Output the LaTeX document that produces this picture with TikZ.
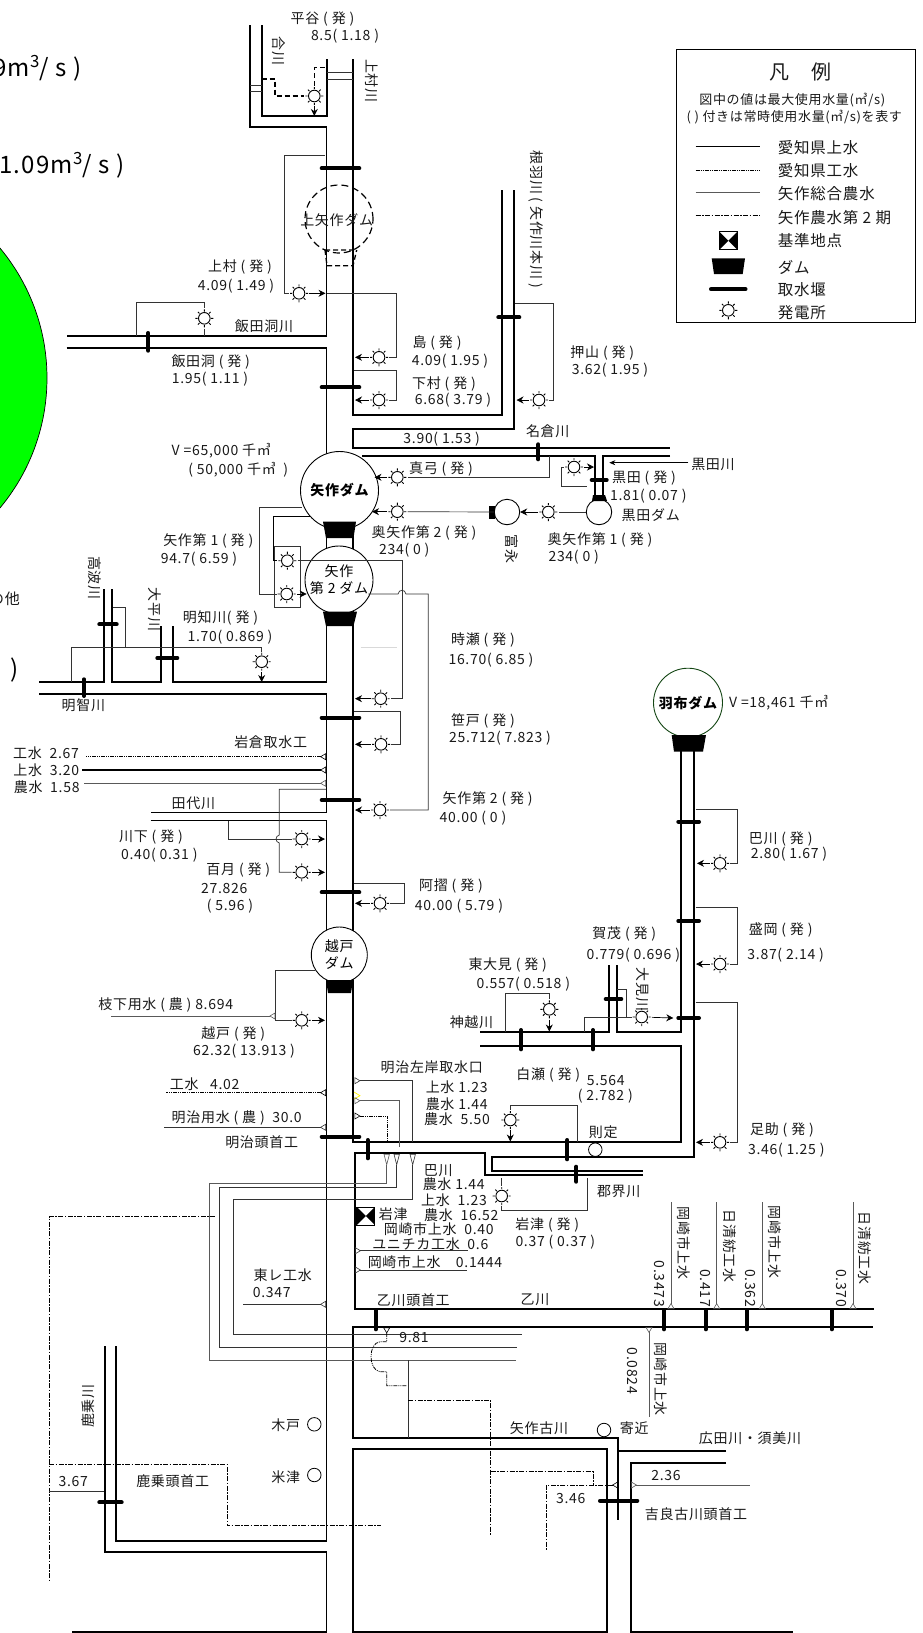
\documentclass[tikz,border=0pt]{standalone}
\usepackage{fontspec}
\setmainfont{Noto Sans CJK JP}[LetterSpace=5]
\usetikzlibrary{arrows.meta,positioning}

\begin{document}
\begin{tikzpicture}[x=1pt,y=-1pt]
\tikzset{
  river/.style={line width=1.7pt},
  weir/.style={line width=4pt,line cap=round},
  feed/.style={line width=.7pt,black!80},
  tailrace/.style={line width=.7pt,-{Stealth[length=7pt,width=7pt]}},
  planned/.style={line width=1.3pt,dash pattern=on 5pt off 3pt},
  josui/.style={line width=1.2pt},
  kosui/.style={line width=1pt,dash pattern=on 4pt off 1pt on 1pt off 1pt on 1pt off 1pt},
  nosui/.style={line width=.8pt,black!65},
  daini/.style={line width=.8pt,dash pattern=on 5pt off 1.5pt on 1.5pt off 1.5pt},
  intake/.style={arrows={Triangle[open,reversed,length=6pt,width=7pt,line width=.6pt]-}},
  intaketall/.style={arrows={Triangle[open,reversed,length=12pt,width=6pt,line width=.6pt]-}},
  damwall/.style={fill=black},
  plant/.style={circle,inner sep=0,minimum size=20pt,path picture={
    \draw[line width=.9pt,shift={(path picture bounding box.center)}] (0,0) circle (5.8);
    \draw[line width=.9pt,shift={(path picture bounding box.center)}] (0:6.8) -- (0:9) (45:6.8) -- (45:9) (90:6.8) -- (90:9) (135:6.8) -- (135:9) (180:6.8) -- (180:9) (225:6.8) -- (225:9) (270:6.8) -- (270:9) (315:6.8) -- (315:9);}},
  damnode/.style={circle,draw,fill=white,line width=.9pt,inner sep=0,align=center,font=\fontsize{14}{17}\selectfont},
  gauge/.style={circle,draw,line width=.8pt,inner sep=0,minimum size=13.5pt},
  kijun/.style={rectangle,draw,fill=white,line width=.8pt,inner sep=0,minimum size=18pt,path picture={
    \fill[black] (path picture bounding box.north west) -- (path picture bounding box.center) -- (path picture bounding box.south west) -- cycle;
    \fill[black] (path picture bounding box.north east) -- (path picture bounding box.center) -- (path picture bounding box.south east) -- cycle;}},
  lbl/.style={inner sep=0,yshift=-1pt,black!90,font=\fontsize{14}{15}\selectfont},
  lblv/.style={lbl,rotate=-90},
  lblu/.style={lbl,rotate=90},
  lbllg/.style={lbl,anchor=west,font=\fontsize{15.5}{17}\selectfont},
  bigtext/.style={inner sep=0,anchor=east,font=\fontsize{24}{28}\selectfont}
}
\useasboundingbox (0,0) rectangle (922,1633);

% off the edge
\draw[fill={rgb,255:red,0;green,255;blue,0},line width=.7pt] (-156,378) circle (203);
\node[bigtext] (t_big_a) at (82,68) {9m\textsuperscript{3}/ s )};
\node[bigtext] (t_big_b) at (125,165) {1.09m\textsuperscript{3}/ s )};
\node[bigtext] (t_big_c) at (19,670) {)};
\node[lbl,anchor=east,font=\fontsize{15}{17}\selectfont] (t_sonota) at (20,598) {の他};

% rivers
\draw[river] (250,25) |- (326.5,127) |- (66.7,336);
\draw[river] (261.7,25) |- (326.7,116) -- (326.7,59);
\draw[river] (353.3,59) |- (501.7,415.3) -- (501.7,190);
\draw[river] (514.3,190) |- (353.3,429) |- (670,448);
\draw[river] (66.7,347.7) -| (326.5,460);
\draw[river] (362,455.7) -| (595,497);
\draw[river] (670,455.7) -| (603,497);
\draw[river] (326.5,530) |- (173,682) -- (173,626);
\draw[river] (161.3,626) |- (111.7,682) -- (111.7,589);
\draw[river] (104.3,589) |- (39,682);
\draw[river] (39,694) -| (326.5,812.5) -- (150.7,812.5);
\draw[river] (150.7,820.5) -| (326.5,1540.7) -| (116,1346);
\draw[river] (104.7,1346) |- (326.5,1552.3) -- (326.5,1633);
\draw[river] (72,1632) -- (326.5,1632);
\draw[river] (353.3,530) |- (681,1142.3) -- (681,1046.3) -- (480,1046.3);
\draw[river] (480,1032) -| (609,965);
\draw[river] (616.7,965) |- (681,1032) -- (681,740);
\draw[river] (694.3,740) |- (491.7,1156.7) |- (643,1170.7);
\draw[river] (643,1175.3) -| (485.3,1152.7) -| (355,1309) -- (874,1309);
\draw[river] (872.7,1326.7) -| (353.3,1437.7) -- (618.3,1437.7) -- (618.3,1520);
\draw[river] (726,1450.7) -- (618.3,1450.7);
\draw[river] (726,1463) -| (631,1632) -- (793,1632);
\draw[river] (353.3,1633) |- (607,1448.7) -- (607,1633);
\draw[river] (353.3,1632) -- (607,1632);

% power stations
\node[plant] (p_hiraya) at (314.3,96) {};
\node[plant] (p_kamimura) at (299,293.3) {};
\node[plant] (p_iidabora) at (204.3,318.3) {};
\node[plant] (p_shima) at (379,357.3) {};
\node[plant] (p_shimomura) at (379,400) {};
\node[plant] (p_oshiyama) at (539,400) {};
\node[plant] (p_mayumi) at (397.3,477.3) {};
\node[plant] (p_okuyahagi_2) at (397.3,511.7) {};
\node[plant] (p_okuyahagi_1) at (548.3,512) {};
\node[plant] (p_kuroda) at (574,467) {};
\node[plant] (p_yahagi_1a) at (287.3,560.7) {};
\node[plant] (p_yahagi_1b) at (286.7,594) {};
\node[plant] (p_akechi) at (261.7,661.7) {};
\node[plant] (p_tokise) at (380.7,698.7) {};
\node[plant] (p_sasado) at (381,744.3) {};
\node[plant] (p_yahagi_2) at (380,810) {};
\node[plant] (p_kawashita) at (301.7,839) {};
\node[plant] (p_hyakutsuki) at (301.7,872.3) {};
\node[plant] (p_azuri) at (380,903.3) {};
\node[plant] (p_koshido) at (301.7,1020.3) {};
\node[plant] (p_higashiomi) at (549.3,1009.3) {};
\node[plant] (p_kamo) at (641.7,1017) {};
\node[plant] (p_tomoe) at (720,863.3) {};
\node[plant] (p_morioka) at (720,964) {};
\node[plant] (p_asuke) at (720,1142.3) {};
\node[plant] (p_shirase) at (510.3,1120) {};
\node[plant] (p_iwatsu) at (501.7,1196) {};

% dams and gauges
\node[damnode,minimum size=78pt,font=\fontsize{14}{17}\selectfont\bfseries] (n_yahagi) at (339.5,490.5) {矢作ダム};
\node[damnode,minimum size=68pt] (n_yahagi_2) at (339,580) {矢作\\第 2 ダム};
\node[damnode,minimum size=56pt] (n_koshido) at (339.3,955) {越戸\\ダム};
\node[damnode,minimum size=69pt,draw={rgb,255:red,20;green,70;blue,20},font=\fontsize{14}{17}\selectfont\bfseries] (n_hazu) at (688,702.7) {羽布ダム};
\node[damnode,minimum size=25.5pt] (n_kuroda) at (599,512) {};
\node[damnode,minimum size=25.5pt] (n_tominaga) at (507,512) {};
\node[circle,draw,dash pattern=on 7pt off 4pt,line width=1.2pt,minimum size=68pt,inner sep=0] (n_kamiyahagi) at (339,219) {};
\node[gauge] (g_norisada) at (595.3,1149.7) {};
\node[gauge] (g_kido) at (314.3,1424.3) {};
\node[gauge] (g_yonezu) at (314.3,1475) {};
\node[gauge] (g_yorichika) at (604,1430) {};
\node[kijun] (k_iwatsu) at (365.8,1216) {};
\draw[planned] (325,250) -- (356.7,250) (325,250) -- (327,265.7) -- (353,265.7) -- (356.7,250);
\fill[damwall] (323,521.7) -- (356,521.7) -- (353.5,538) -- (326,538) -- cycle;
\fill[damwall] (323,611.7) -- (357,611.7) -- (353.5,626) -- (326,626) -- cycle;
\fill[damwall] (326,980) -- (353,980) -- (351,993) -- (328,993) -- cycle;
\fill[damwall] (671.7,735) -- (706,735) -- (703,751.7) -- (674,751.7) -- cycle;
\fill[damwall] (593,495) -- (605,495) -- (607,501) -- (592,501) -- cycle;
\fill[damwall] (489.3,506) -- (495,506) -- (495,518.7) -- (489.3,518.7) -- cycle;

% weirs
\draw[weir] (321.7,168.3) -- (359.3,168.3);
\draw[weir] (321.7,387.3) -- (359.3,387.3);
\draw[weir] (148.3,333) -- (148.3,350.7);
\draw[weir] (498.3,317.3) -- (519.3,317.3);
\draw[weir] (538.3,444.3) -- (538.3,459.3);
\draw[weir] (591.7,480) -- (606.7,480);
\draw[weir] (99.3,624.3) -- (116.7,624.3);
\draw[weir] (157.3,658) -- (177.3,658);
\draw[weir] (84,679.3) -- (84,696);
\draw[weir] (321.7,717.7) -- (359.3,717.7);
\draw[weir] (321.7,800) -- (359.3,800);
\draw[weir] (321.7,892.3) -- (359.3,892.3);
\draw[weir] (321.7,1136.7) -- (359.3,1136.7);
\draw[weir] (367.7,1140) -- (367.7,1158.3);
\draw[weir] (678.3,821.7) -- (699,821.7);
\draw[weir] (678.3,921) -- (699,921);
\draw[weir] (678.3,1018) -- (699,1018);
\draw[weir] (521,1030) -- (521,1049.3);
\draw[weir] (593,1030) -- (593,1049.3);
\draw[weir] (605.7,999) -- (621.3,999);
\draw[weir] (567.3,1140) -- (567.3,1159.3);
\draw[weir] (576.3,1166.7) -- (576.3,1181.7);
\draw[weir] (375.7,1310) -- (375.7,1329.3);
\draw[weir] (664,1310) -- (664,1329.3);
\draw[weir] (705.7,1310) -- (705.7,1329.3);
\draw[weir] (746.7,1310) -- (746.7,1329.3);
\draw[weir] (831.7,1310) -- (831.7,1329.3);
\draw[weir] (99.3,1502.3) -- (121.7,1502.3);
\draw[weir] (600,1500.7) -- (637.3,1500.7);

% water to and from the stations
\coordinate (c_hiraya_a) at (261.7,79);
\coordinate (c_hiraya_b) at (326.7,67.7);
\coordinate (d_hiraya) at (314.3,116);
\draw[planned] (c_hiraya_a) -| (275,96) -- (p_hiraya);
\draw[planned] (p_hiraya) -- (314.3,67.7) -- (c_hiraya_b);
\draw[planned,-{Stealth[length=7pt,width=7pt]}] (p_hiraya) -- (d_hiraya);
\draw[feed] (250,85) -- (261.7,85);
\draw[feed] (250,91.7) -- (261.7,91.7);
\draw[feed] (326.7,72.7) -- (353.3,72.7);
\draw[feed] (326.7,79.3) -- (353.3,79.3);
\coordinate (c_kamimura) at (325,155.3);
\coordinate (d_kamimura) at (325.5,293.3);
\draw[feed] (c_kamimura) -| (284.7,293.3) -- (p_kamimura);
\draw[tailrace] (p_kamimura) -- (d_kamimura);
\coordinate (c_shima) at (326.7,293.3);
\coordinate (d_shima) at (355,357.3);
\draw[feed] (c_shima) -| (396,357.3) -- (p_shima);
\draw[tailrace] (p_shima) -- (d_shima);
\coordinate (c_iidabora) at (136,336);
\coordinate (d_iidabora) at (204.3,336);
\draw[feed] (c_iidabora) |- (204.3,302) -- (p_iidabora);
\draw[feed] (p_iidabora) -- (d_iidabora);
\coordinate (c_shimomura) at (354.3,370.7);
\coordinate (d_shimomura) at (355,400);
\draw[feed] (c_shimomura) -| (396,400) -- (p_shimomura);
\draw[tailrace] (p_shimomura) -- (d_shimomura);
\coordinate (c_oshiyama) at (515,303.3);
\coordinate (d_oshiyama) at (516.5,400);
\draw[feed] (c_oshiyama) -| (553.3,400) -- (p_oshiyama);
\draw[tailrace] (p_oshiyama) -- (d_oshiyama);
\coordinate (c_mayumi) at (549.3,456);
\coordinate (d_mayumi) at (374.5,477.3);
\draw[feed] (c_mayumi) |- (p_mayumi);
\draw[tailrace] (p_mayumi) -- (d_mayumi);
\coordinate (d_okuyahagi_2) at (372,511.7);
\draw[feed] (n_tominaga) -- (p_okuyahagi_2);
\draw[tailrace] (p_okuyahagi_2) -- (d_okuyahagi_2);
\draw[feed] (n_kuroda) -- (p_okuyahagi_1);
\draw[tailrace] (p_okuyahagi_1) -- (n_tominaga);
\coordinate (c_kuroda) at (586.7,486.7);
\coordinate (d_kuroda) at (594,467);
\draw[feed] (c_kuroda) -| (561.3,467) -- (p_kuroda);
\draw[tailrace] (p_kuroda) -- (d_kuroda);
\coordinate (c_kurodagawa) at (688.3,462.7);
\coordinate (d_kurodagawa) at (609.3,462.7);
\draw[line width=.7pt,-{Stealth[length=6pt,width=5pt]}] (c_kurodagawa) -- (d_kurodagawa);
\draw[feed,fill=none] (274,546) rectangle (300,607.7);
\coordinate (c_yahagi_1a) at (310,516.7);
\coordinate (c_yahagi_1b) at (301.7,507.3);
\coordinate (d_yahagi_1b) at (306.7,594);
\draw[line width=1pt] (c_yahagi_1a) -| (273.3,560.7) -- (p_yahagi_1a);
\draw[feed] (c_yahagi_1b) -| (259,594) -- (p_yahagi_1b);
\draw[tailrace] (p_yahagi_1b) -- (d_yahagi_1b);
\coordinate (d_tokise) at (355,698.7);
\draw[feed] (p_yahagi_1a) -| (402.3,698.7) -- (p_tokise);
\draw[tailrace] (p_tokise) -- (d_tokise);
\coordinate (d_yahagi_2) at (355,810);
\draw[feed] (368.3,594) -- (398,594) .. controls (399,589) and (405,589) .. (406,594) -| (428.3,810) -- (p_yahagi_2);
\draw[tailrace] (p_yahagi_2) -- (d_yahagi_2);
\draw[line width=.6pt,black!15] (360.7,647.3) -- (396.7,647.3);
\coordinate (c_sasado) at (354.3,711.7);
\coordinate (d_sasado) at (355,744.3);
\draw[feed] (c_sasado) -| (400,744.3) -- (p_sasado);
\draw[tailrace] (p_sasado) -- (d_sasado);
\coordinate (c_akechi_a) at (71,682);
\coordinate (c_akechi_b) at (112.7,607.7);
\coordinate (d_akechi) at (261.7,682);
\draw[feed] (c_akechi_a) |- (261.7,647.7) -- (p_akechi);
\draw[feed] (c_akechi_b) -| (125.7,647.7);
\draw[tailrace] (p_akechi) -- (d_akechi);
\coordinate (c_hyakutsuki) at (326,789.3);
\coordinate (d_hyakutsuki) at (325,872.3);
\draw[feed] (c_hyakutsuki) -| (279.3,835) .. controls (275,836) and (275,842) .. (279.3,843) |- (p_hyakutsuki);
\draw[tailrace] (p_hyakutsuki) -- (d_hyakutsuki);
\coordinate (c_kawashita) at (228.7,820.5);
\coordinate (d_kawashita) at (325,839);
\draw[feed] (c_kawashita) |- (p_kawashita);
\draw[tailrace] (p_kawashita) -- (d_kawashita);
\coordinate (c_azuri) at (354.3,883.3);
\coordinate (d_azuri) at (355,903.3);
\draw[feed] (c_azuri) -| (404.3,903.3) -- (p_azuri);
\draw[tailrace] (p_azuri) -- (d_azuri);
\coordinate (c_koshido) at (315,970.7);
\coordinate (d_koshido) at (325,1020.3);
\draw[feed] (c_koshido) -| (275.3,1020.3) -- (p_koshido);
\draw[tailrace] (p_koshido) -- (d_koshido);
\coordinate (c_higashiomi) at (505.7,1032);
\coordinate (d_higashiomi) at (549.3,1031.5);
\draw[feed] (c_higashiomi) |- (549.3,993.7) -- (p_higashiomi);
\draw[tailrace] (p_higashiomi) -- (d_higashiomi);
\coordinate (c_kamo_a) at (584.3,1032);
\coordinate (c_kamo_b) at (616.7,989.3);
\coordinate (d_kamo) at (673.3,1018);
\draw[feed] (c_kamo_a) |- (p_kamo);
\draw[feed] (c_kamo_b) -| (626.7,1018);
\draw[tailrace] (p_kamo) -- (d_kamo);
\coordinate (c_tomoe) at (695.7,809.3);
\coordinate (d_tomoe) at (697,863.3);
\draw[feed] (c_tomoe) -| (737.7,863.3) -- (p_tomoe);
\draw[tailrace] (p_tomoe) -- (d_tomoe);
\coordinate (c_morioka) at (695.7,907.7);
\coordinate (d_morioka) at (696,964);
\draw[feed] (c_morioka) -| (737.7,964) -- (p_morioka);
\draw[tailrace] (p_morioka) -- (d_morioka);
\coordinate (c_asuke) at (695.7,1002.7);
\coordinate (d_asuke) at (696,1142.3);
\draw[feed] (c_asuke) -| (737.7,1142.3) -- (p_asuke);
\draw[tailrace] (p_asuke) -- (d_asuke);
\coordinate (c_shirase) at (577.3,1142);
\coordinate (d_shirase) at (510.3,1141.5);
\draw[feed] (c_shirase) |- (510.3,1105) -- (p_shirase);
\draw[tailrace] (p_shirase) -- (d_shirase);
\coordinate (c_iwatsu_a) at (587.7,1178.3);
\coordinate (c_iwatsu_b) at (501.7,1178.3);
\draw[feed] (c_iwatsu_a) |- (501.7,1210.7) -- (p_iwatsu);
\draw[feed] (c_iwatsu_b) -- (p_iwatsu);

% takings
\draw[kosui,intake] (326,756.7) -- (86,756.7);
\draw[josui,intake] (326,770) -- (81.7,770);
\draw[nosui,intake] (326,783.3) -- (84,783.3);
\draw[nosui,intake] (275.3,1016) -- (110.7,1016);
\draw[kosui,intake] (326,1092.7) -- (165.7,1092.7);
\draw[feed,intake] (326,1127.3) -- (164,1127.3);
\draw[feed,intake] (326,1304.3) -- (243.3,1304.3);
\draw[feed,intake] (354.5,1080.7) -| (412.7,1141.7);
\draw[line width=.7pt,yellow] (354,1092) -- (360,1095.7) -- (354,1099);
\draw[nosui,intake] (354.5,1100.7) -| (399.3,1147.3);
\draw[kosui,intake] (354.5,1116) -| (387.3,1141);
\draw[feed,intaketall] (412.7,1154) |- (233.3,1199.3) |- (521.7,1334.3);
\draw[feed,intaketall] (396.7,1154) |- (219.3,1187.7) |- (516.7,1347.3);
\draw[nosui,intaketall] (386.7,1154) |- (209,1183.3) |- (516,1360.3);
\draw[feed,intake] (355,1250.7) -- (468,1250.7);
\draw[feed,intake] (355,1270) -- (467,1270);
\draw[nosui,intake] (671,1309) -- (671,1201.7);
\draw[nosui,intake] (716.7,1309) -- (716.7,1201.7);
\draw[nosui,intake] (762.3,1309) -- (762.3,1201.7);
\draw[nosui,intake] (853,1309) -- (853,1201.7);
\draw[nosui,intake] (649,1327) -- (649,1417.3);
\draw[kosui,line width=.8pt,intake] (386.7,1327.5) |- (380,1341.7) .. controls (368,1343) and (368,1370) .. (380,1371.7) -| (386.7,1385.7) -- (406.7,1385.7);
\draw[feed] (408.3,1360) -- (408.3,1437.7);
\draw[daini] (408.3,1400) -| (490.7,1535);
\draw[daini] (490.7,1471.7) -| (593.3,1485);
\draw[daini,intake] (618,1485) -| (546,1550);
\draw[nosui,intake] (631,1485) -- (750,1485);
\draw[daini] (215,1216.7) -| (49,1582.7);
\draw[daini] (49,1464.3) -| (227,1525.7) -- (381,1525.7);
\draw[feed] (49,1491) -- (104.3,1491);

% labels
\node[lbl] (t_hiraya) at (322.5,18.3) {平谷 ( 発 )};
\node[lbl] (v_hiraya) at (345,35) {8.5( 1.18 )};
\node[lblv] (t_aikawa) at (279,50) {合川};
\node[lblv] (t_kamimuragawa) at (371.7,80) {上村川};
\node[lbl] (t_kamiyahagi) at (336.7,219.3) {上矢作ダム};
\node[lbl] (t_kamimura) at (240,266) {上村 ( 発 )};
\node[lbl] (v_kamimura) at (236,285) {4.09( 1.49 )};
\node[lbl] (t_iidaboragawa) at (264,325.7) {飯田洞川};
\node[lbl] (t_iidabora) at (210.7,361) {飯田洞 ( 発 )};
\node[lbl] (v_iidabora) at (210,377.7) {1.95( 1.11 )};
\node[lbl] (t_shima) at (437,342.3) {島 ( 発 )};
\node[lbl] (v_shima) at (450,360) {4.09( 1.95 )};
\node[lbl] (t_shimomura) at (444,383.3) {下村 ( 発 )};
\node[lbl] (v_shimomura) at (453,399.3) {6.68( 3.79 )};
\node[lblv] (t_nebagawa) at (536,218.3) {根羽川 ( 矢作川本川 )};
\node[lbl] (t_oshiyama) at (602.3,351.7) {押山 ( 発 )};
\node[lbl] (v_oshiyama) at (610,369) {3.62( 1.95 )};
\node[lbl] (t_v_yahagi) at (221.3,450) {V =65,000 千㎥};
\node[lbl] (t_v_yahagi_b) at (238.3,469) {( 50,000 千㎥ \ )};
\node[lbl] (v_nagura) at (441.7,438.3) {3.90( 1.53 )};
\node[lbl] (t_nagura) at (547.7,430.7) {名倉川};
\node[lbl] (t_mayumi) at (441,467.7) {真弓 ( 発 )};
\node[lbl] (t_okuyahagi_2) at (424,531.7) {奥矢作第 2 ( 発 )};
\node[lbl] (v_okuyahagi_2) at (404.3,549.3) {234( 0 )};
\node[lbl] (t_yahagi_1) at (208.3,540) {矢作第 1 ( 発 )};
\node[lbl] (v_yahagi_1) at (199,557.7) {94.7( 6.59 )};
\node[lblv] (t_takanami) at (95,576.7) {高波川};
\node[lblv] (t_ohira) at (154.3,608.3) {大平川};
\node[lbl] (t_akechi) at (220.5,616.7) {明知川( 発 )};
\node[lbl] (v_akechi) at (230,635.7) {1.70( 0.869 )};
\node[lbl] (t_akechigawa) at (83.3,704) {明智川};
\node[lbl] (t_iwakura) at (270.7,741) {岩倉取水工};
\node[lbl] (t_iwakura_k) at (46,752.3) {工水\ \ 2.67};
\node[lbl] (t_iwakura_j) at (46.3,769) {上水\ \ 3.20};
\node[lbl] (t_iwakura_n) at (46.7,786) {農水\ \ 1.58};
\node[lbl] (t_tashiro) at (193.3,802) {田代川};
\node[lbl] (t_kurodagawa) at (713,463.7) {黒田川};
\node[lbl] (t_kuroda) at (644,477.3) {黒田 ( 発 )};
\node[lbl] (v_kuroda) at (648.3,495) {1.81( 0.07 )};
\node[lbl] (t_kurodadam) at (650.7,514) {黒田ダム};
\node[lbl] (t_okuyahagi_1) at (600,539) {奥矢作第 1 ( 発 )};
\node[lbl] (v_okuyahagi_1) at (573.7,555.7) {234( 0 )};
\node[lblv] (t_tominaga) at (511.7,548) {富永};
\node[lbl] (t_tokise) at (483,639.3) {時瀬 ( 発 )};
\node[lbl] (v_tokise) at (491,659) {16.70( 6.85 )};
\node[lbl] (t_sasado) at (483,720) {笹戸 ( 発 )};
\node[lbl] (v_sasado) at (500,737.3) {25.712( 7.823 )};
\node[lbl] (t_yahagi_2) at (487.7,797.7) {矢作第 2 ( 発 )};
\node[lbl] (v_yahagi_2) at (473,816.7) {40.00 ( 0 )};
\node[lbl] (t_v_hazu) at (778.7,701.7) {V =18,461 千㎥};
\node[lbl] (t_kawashita) at (151,836) {川下 ( 発 )};
\node[lbl] (v_kawashita) at (159.3,854.3) {0.40( 0.31 )};
\node[lbl] (t_hyakutsuki) at (238.3,869) {百月 ( 発 )};
\node[lbl] (v_hyakutsuki) at (224.3,887.3) {27.826};
\node[lbl] (v_hyakutsuki_b) at (230,905) {( 5.96 )};
\node[lbl] (t_azuri) at (451,885) {阿摺 ( 発 )};
\node[lbl] (v_azuri) at (459,905) {40.00 ( 5.79 )};
\node[lbl] (t_koshido) at (233.3,1032.7) {越戸 ( 発 )};
\node[lbl] (v_koshido) at (244,1050) {62.32( 13.913 )};
\node[lbl] (t_edashita) at (165.7,1004.3) {枝下用水 ( 農 ) 8.694};
\node[lbl] (t_kosui_402) at (204.7,1083.3) {工水\ \ \ 4.02};
\node[lbl] (t_meiji) at (236.7,1116.7) {明治用水 ( 農 ) \ 30.0};
\node[lbl] (t_meijitoshu) at (261.7,1140.7) {明治頭首工};
\node[lbl] (t_meijisagan) at (431.7,1066.7) {明治左岸取水口};
\node[lbl] (t_sagan_j) at (456.7,1086) {上水 1.23};
\node[lbl] (t_sagan_n) at (456.7,1103.3) {農水 1.44};
\node[lbl] (t_sagan_m) at (457,1118.3) {農水\ \ 5.50};
\node[lbl] (t_tomoegawa) at (438.3,1169.3) {巴川};
\node[lbl] (t_tomoe_n) at (453.7,1183.3) {農水 1.44};
\node[lbl] (t_tomoe_j) at (454,1199.3) {上水\ \ 1.23};
\node[lbl] (t_tomoe_m) at (461.3,1214.3) {農水\ \ 16.52};
\node[lbl] (t_iwatsu_pt) at (393.3,1212.7) {岩津};
\node[lbl] (t_okazaki_a) at (438.7,1228.3) {岡崎市上水\ \ 0.40};
\node[lbl] (t_unitika) at (430.3,1243.3) {ユニチカ工水\ \ 0.6};
\node[lbl] (t_okazaki_b) at (435,1261) {岡崎市上水\ \ \ \ 0.1444};
\node[lbl] (t_tomoe) at (780.7,838.3) {巴川 ( 発 )};
\node[lbl] (v_tomoe) at (789,853.3) {2.80( 1.67 )};
\node[lbl] (t_morioka) at (780.7,929) {盛岡 ( 発 )};
\node[lbl] (v_morioka) at (785.7,954.3) {3.87( 2.14 )};
\node[lbl] (t_asuke) at (782,1129) {足助 ( 発 )};
\node[lbl] (v_asuke) at (786.3,1149) {3.46( 1.25 )};
\node[lbl] (t_kamo) at (624.3,933.3) {賀茂 ( 発 )};
\node[lbl] (v_kamo) at (633.3,954) {0.779( 0.696 )};
\node[lblv] (t_omi) at (642.7,988.3) {大見川};
\node[lbl] (t_higashiomi) at (507.7,964) {東大見 ( 発 )};
\node[lbl] (v_higashiomi) at (523.3,983.3) {0.557( 0.518 )};
\node[lbl] (t_kamigoe) at (471.5,1021.7) {神越川};
\node[lbl] (t_shirase) at (548.3,1074) {白瀬 ( 発 )};
\node[lbl] (v_shirase) at (605.7,1079) {5.564};
\node[lbl] (v_shirase_b) at (605.3,1095.3) {( 2.782 )};
\node[lbl] (t_norisada) at (603.3,1131.7) {則定};
\node[lbl] (t_gunkai) at (618.7,1190.7) {郡界川};
\node[lbl] (t_iwatsu) at (547.3,1224.3) {岩津 ( 発 )};
\node[lbl] (v_iwatsu) at (555.3,1241) {0.37 ( 0.37 )};
\node[lblv] (t_ue_a) at (684,1242) {岡崎市上水};
\node[lblv] (t_ue_b) at (729.3,1245) {日清紡工水};
\node[lblv] (t_ue_c) at (775,1241) {岡崎市上水};
\node[lblv] (t_ue_d) at (865,1247) {日清紡工水};
\node[lblv] (v_ue_a) at (659.3,1283) {0.3473};
\node[lblv] (v_ue_b) at (705,1287) {0.417};
\node[lblv] (v_ue_c) at (750,1287) {0.362};
\node[lblv] (v_ue_d) at (841.7,1287) {0.370};
\node[lbl] (t_otogawa) at (535,1299) {乙川};
\node[lbl] (t_otogawatoshu) at (413.3,1299.3) {乙川頭首工};
\node[lbl] (t_toray) at (282.7,1274) {東レ工水};
\node[lbl] (v_toray) at (271.7,1291) {0.347};
\node[lbl] (v_981) at (414,1336) {9.81};
\node[lblv] (v_0824) at (632.3,1370) {0.0824};
\node[lblv] (t_ue_e) at (660.7,1378.3) {岡崎市上水};
\node[lblu] (t_kanori) at (88.3,1405) {鹿乗川};
\node[lbl] (t_kido) at (285.7,1424) {木戸};
\node[lbl] (t_yonezu) at (285.7,1475.7) {米津};
\node[lbl] (v_367) at (73.3,1480) {3.67};
\node[lbl] (t_kanoritoshu) at (172.7,1480) {鹿乗頭首工};
\node[lbl] (t_yahagifuru) at (539,1426.7) {矢作古川};
\node[lbl] (t_yorichika) at (634.3,1427.3) {寄近};
\node[lbl] (t_hirota) at (750,1437.3) {広田川・須美川};
\node[lbl] (v_236) at (666,1474.3) {2.36};
\node[lbl] (v_346) at (570.7,1497.7) {3.46};
\node[lbl] (t_kira) at (696,1513.3) {吉良古川頭首工};

% legend
\draw[line width=1.2pt] (676.7,49.3) rectangle (915.3,322.3);
\node[lbl,font=\fontsize{20}{22}\selectfont] (t_hanrei) at (800,70.7) {凡　例};
\node[lbl,font=\fontsize{13}{14}\selectfont] (t_hanrei_a) at (792.3,99.3) {図中の値は最大使用水量(㎥/s)};
\node[lbl,font=\fontsize{13}{14}\selectfont] (t_hanrei_b) at (794.3,115.7) {( ) 付きは常時使用水量(㎥/s)を表す};
\draw[josui] (695.7,146.7) -- (760,146.7);
\draw[kosui] (695.7,170) -- (760,170);
\draw[nosui] (695.7,192.7) -- (760,192.7);
\draw[daini] (695.7,215.3) -- (760,215.3);
\node[kijun] (k_legend) at (728.3,240.7) {};
\fill[damwall] (711.7,258.3) -- (745,258.3) -- (742.7,274) -- (714,274) -- cycle;
\draw[weir] (711,289.3) -- (745.5,289.3);
\node[plant] (p_legend) at (728.3,310.3) {};
\node[lbllg] (t_lg_a) at (777.7,147) {愛知県上水};
\node[lbllg] (t_lg_b) at (777.7,170) {愛知県工水};
\node[lbllg] (t_lg_c) at (777.7,193) {矢作総合農水};
\node[lbllg] (t_lg_d) at (777.7,216.7) {矢作農水第 2 期};
\node[lbllg] (t_lg_e) at (777.7,240) {基準地点};
\node[lbllg] (t_lg_f) at (777.7,266) {ダム};
\node[lbllg] (t_lg_g) at (777.7,289) {取水堰};
\node[lbllg] (t_lg_h) at (777.7,312) {発電所};
\end{tikzpicture}
\end{document}
